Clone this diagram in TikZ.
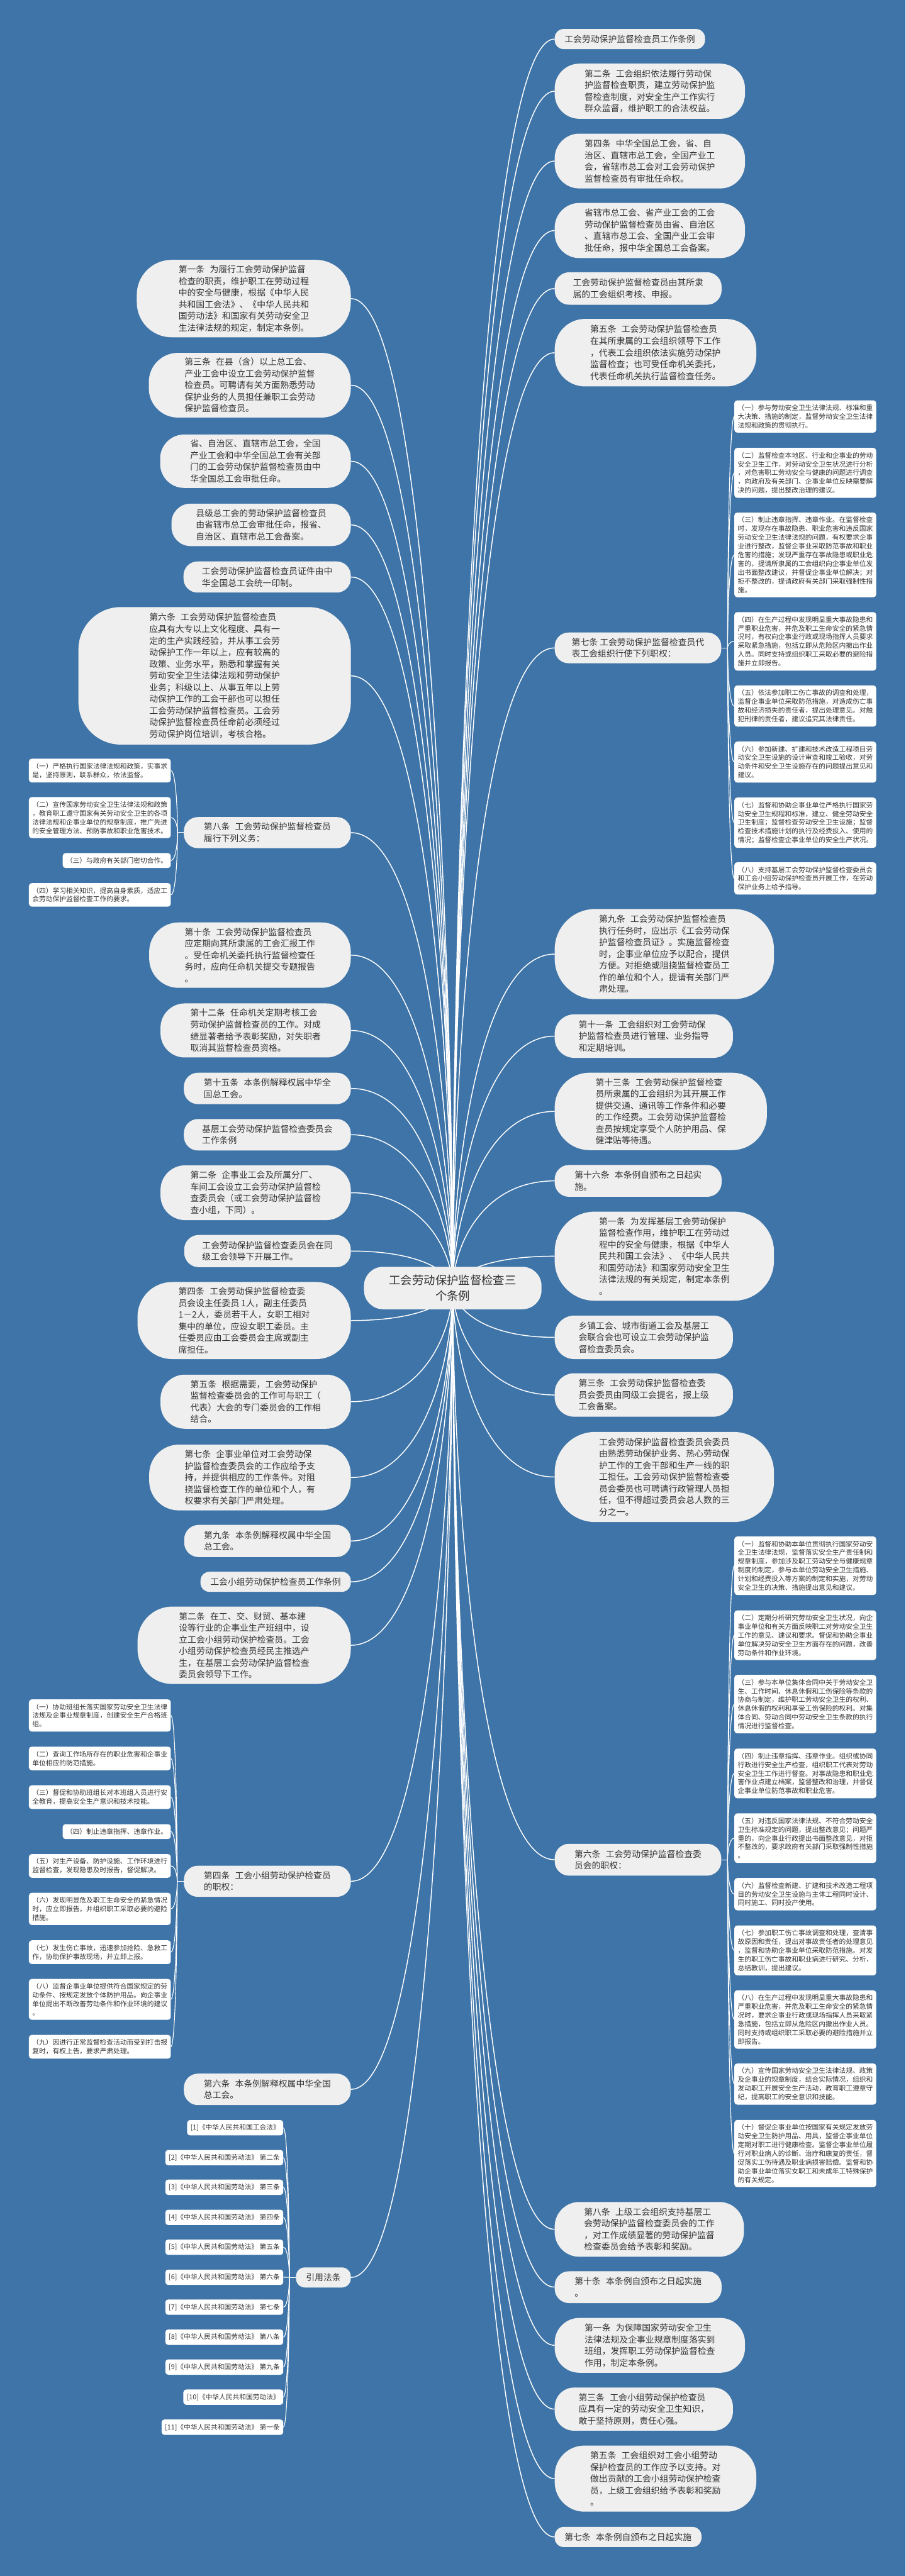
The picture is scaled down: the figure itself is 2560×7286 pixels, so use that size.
\documentclass[tikz,border=0pt]{standalone}
\usepackage{fontspec}
\setmainfont{Noto Sans CJK SC}
\usetikzlibrary{calc}
\definecolor{bgblue}{HTML}{3E74A7}
\definecolor{boxgray}{HTML}{EFEFEF}
\definecolor{txt}{HTML}{333333}
\newcommand\zgap{\hspace{0.6em}}
\newcommand\lnk[3][mline]{\draw[#1] (#2) .. controls ($(#2)!0.33!(#2 |- #3)$) and ($(#3)!0.75!(#2 |- #3)$) .. (#3);}
\pgfdeclarelayer{bg}\pgfdeclarelayer{lines}\pgfsetlayers{bg,lines,main}
\tikzset{
 mb/.style 2 args={fill=boxgray, text=txt, align=left, inner sep=0pt, minimum width=#1, minimum height=#2, rounded corners={min(0.45*#2,120)}, font=\fontsize{24.6pt}{33pt}\selectfont},
 cbox/.style={fill=boxgray, text=txt, align=center, inner sep=0pt, minimum width=502, minimum height=120, rounded corners=54, font=\fontsize{32.7pt}{43pt}\selectfont},
 cb/.style={fill=white, text=txt, align=left, inner xsep=9.5pt, inner ysep=12pt, rounded corners=8pt, font=\fontsize{19.1pt}{24.7pt}\selectfont},
 mline/.style={draw=white, line width=2.6pt},
 cline/.style={draw=white, line width=2pt},
}
\begin{document}
\begin{tikzpicture}[x=1pt,y=-1pt]
\useasboundingbox (0,0) rectangle (2560,7286);
\begin{pgfonlayer}{bg}\fill[bgblue] (0,0) rectangle (2560,7286);\end{pgfonlayer}

\node[cbox] (C0) at (1280,3643) {工会劳动保护监督检查三\\个条例};
\coordinate (CC) at (1280,3643);

% ---------------- right column
\node[mb={425}{57},anchor=west] (R1) at (1568,110.5) {工会劳动保护监督检查员工作条例};
\node[mb={538}{156},anchor=west] (R2) at (1568,258) {第二条\zgap 工会组织依法履行劳动保\\护监督检查职责，建立劳动保护监\\督检查制度，对安全生产工作实行\\群众监督，维护职工的合法权益。};
\node[mb={538}{155},anchor=west] (R3) at (1568,455.5) {第四条\zgap 中华全国总工会，省、自\\治区、直辖市总工会，全国产业工\\会，省辖市总工会对工会劳动保护\\监督检查员有审批任命权。};
\node[mb={538}{156},anchor=west] (R4) at (1568,652) {省辖市总工会、省产业工会的工会\\劳动保护监督检查员由省、自治区\\、直辖市总工会、全国产业工会审\\批任命，报中华全国总工会备案。};
\node[mb={472}{92},anchor=west] (R5) at (1568,816) {工会劳动保护监督检查员由其所隶\\属的工会组织考核、申报。};
\node[mb={570}{191},anchor=west] (R6) at (1568,997.5) {第五条\zgap 工会劳动保护监督检查员\\在其所隶属的工会组织领导下工作\\，代表工会组织依法实施劳动保护\\监督检查；也可受任命机关委托，\\代表任命机关执行监督检查任务。};
\node[mb={471}{87},anchor=west] (R7) at (1568,1832.5) {第七条 工会劳动保护监督检查员代\\表工会组织行使下列职权：};
\node[mb={620}{255},anchor=west] (R8) at (1568,2698.5) {第九条\zgap 工会劳动保护监督检查员\\执行任务时，应出示《工会劳动保\\护监督检查员证》。实施监督检查\\时，企事业单位应予以配合，提供\\方便。对拒绝或阻挠监督检查员工\\作的单位和个人，提请有关部门严\\肃处理。};
\node[mb={504}{123},anchor=west] (R9) at (1568,2930.5) {第十一条\zgap 工会组织对工会劳动保\\护监督检查员进行管理、业务指导\\和定期培训。};
\node[mb={600}{219},anchor=west] (R10) at (1568,3143.5) {第十三条\zgap 工会劳动保护监督检查\\员所隶属的工会组织为其开展工作\\提供交通、通讯等工作条件和必要\\的工作经费。工会劳动保护监督检\\查员按规定享受个人防护用品、保\\健津贴等待遇。};
\node[mb={472}{90},anchor=west] (R11) at (1568,3340) {第十六条\zgap 本条例自颁布之日起实\\施。};
\node[mb={620}{252},anchor=west] (R12) at (1568,3553) {第一条\zgap 为发挥基层工会劳动保护\\监督检查作用，维护职工在劳动过\\程中的安全与健康，根据《中华人\\民共和国工会法》、《中华人民共\\和国劳动法》和国家劳动安全卫生\\法律法规的有关规定，制定本条例\\。};
\node[mb={504}{123},anchor=west] (R13) at (1568,3782.5) {乡镇工会、城市街道工会及基层工\\会联合会也可设立工会劳动保护监\\督检查委员会。};
\node[mb={504}{123},anchor=west] (R14) at (1568,3945.5) {第三条\zgap 工会劳动保护监督检查委\\员会委员由同级工会提名，报上级\\工会备案。};
\node[mb={620}{255},anchor=west] (R15) at (1568,4177.5) {工会劳动保护监督检查委员会委员\\由熟悉劳动保护业务、热心劳动保\\护工作的工会干部和生产一线的职\\工担任。工会劳动保护监督检查委\\员会委员也可聘请行政管理人员担\\任，但不得超过委员会总人数的三\\分之一。};
\node[mb={471}{90},anchor=west] (R16) at (1568,5260) {第六条\zgap 工会劳动保护监督检查委\\员会的职权：};
\node[mb={535}{155},anchor=west] (R17) at (1568,6305.5) {第八条\zgap 上级工会组织支持基层工\\会劳动保护监督检查委员会的工作\\，对工作成绩显著的劳动保护监督\\检查委员会给予表彰和奖励。};
\node[mb={472}{90},anchor=west] (R18) at (1568,6469) {第十条\zgap 本条例自颁布之日起实施\\。};
\node[mb={538}{155},anchor=west] (R19) at (1568,6633.5) {第一条\zgap 为保障国家劳动安全卫生\\法律法规及企事业规章制度落实到\\班组，发挥职工劳动保护监督检查\\作用，制定本条例。};
\node[mb={504}{122},anchor=west] (R20) at (1568,6814) {第三条\zgap 工会小组劳动保护检查员\\应具有一定的劳动安全卫生知识，\\敢于坚持原则，责任心强。};
\node[mb={570}{187},anchor=west] (R21) at (1568,7010.5) {第五条\zgap 工会组织对工会小组劳动\\保护检查员的工作应予以支持。对\\做出贡献的工会小组劳动保护检查\\员，上级工会组织给予表彰和奖励\\。};
\node[mb={415}{57},anchor=west] (R22) at (1568,7175.5) {第七条\zgap 本条例自颁布之日起实施};

% children of R7
\node[cb,anchor=west] (A1) at (2076,1178) {（一）参与劳动安全卫生法律法规、标准和重\\大决策、措施的制定，监督劳动安全卫生法律\\法规和政策的贯彻执行。};
\node[cb,anchor=west] (A2) at (2076,1337.5) {（二）监督检查本地区、行业和企事业的劳动\\安全卫生工作，对劳动安全卫生状况进行分析\\，对危害职工劳动安全与健康的问题进行调查\\，向政府及有关部门、企事业单位反映需要解\\决的问题，提出整改治理的建议。};
\node[cb,anchor=west] (A3) at (2076,1569.5) {（三）制止违章指挥、违章作业。在监督检查\\时，发现存在事故隐患、职业危害和违反国家\\劳动安全卫生法律法规的问题，有权要求企事\\业进行整改，监督企事业采取防范事故和职业\\危害的措施；发现严重存在事故隐患或职业危\\害的，提请所隶属的工会组织向企事业单位发\\出书面整改建议，并督促企事业单位解决；对\\拒不整改的，提请政府有关部门采取强制性措\\施。};
\node[cb,anchor=west] (A4) at (2076,1814) {（四）在生产过程中发现明显重大事故隐患和\\严重职业危害，并危及职工生命安全的紧急情\\况时，有权向企事业行政或现场指挥人员要求\\采取紧急措施，包括立即从危险区内撤出作业\\人员。同时支持或组织职工采取必要的避险措\\施并立即报告。};
\node[cb,anchor=west] (A5) at (2076,1997) {（五）依法参加职工伤亡事故的调查和处理，\\监督企事业单位采取防范措施，对造成伤亡事\\故和经济损失的责任者，提出处理意见。对触\\犯刑律的责任者，建议追究其法律责任。};
\node[cb,anchor=west] (A6) at (2076,2155.5) {（六）参加新建、扩建和技术改造工程项目劳\\动安全卫生设施的设计审查和竣工验收，对劳\\动条件和安全卫生设施存在的问题提出意见和\\建议。};
\node[cb,anchor=west] (A7) at (2076,2327) {（七）监督和协助企事业单位严格执行国家劳\\动安全卫生规程和标准，建立、健全劳动安全\\卫生制度；监督检查劳动安全卫生设施；监督\\检查技术措施计划的执行及经费投入、使用的\\情况；监督检查企事业单位的安全生产状况。};
\node[cb,anchor=west] (A8) at (2076,2484.5) {（八）支持基层工会劳动保护监督检查委员会\\和工会小组劳动保护检查员开展工作，在劳动\\保护业务上给予指导。};

% children of R16
\node[cb,anchor=west] (B1) at (2076,4428.5) {（一）监督和协助本单位贯彻执行国家劳动安\\全卫生法律法规，监督落实安全生产责任制和\\规章制度，参加涉及职工劳动安全与健康规章\\制度的制定，参与本单位劳动安全卫生措施、\\计划和经费投入等方案的制定和实施，对劳动\\安全卫生的决策、措施提出意见和建议。};
\node[cb,anchor=west] (B2) at (2076,4625) {（二）定期分析研究劳动安全卫生状况，向企\\事业单位和有关方面反映职工对劳动安全卫生\\工作的意见、建议和要求。督促和协助企事业\\单位解决劳动安全卫生方面存在的问题，改善\\劳动条件和作业环境。};
\node[cb,anchor=west] (B3) at (2076,4820) {（三）参与本单位集体合同中关于劳动安全卫\\生、工作时间、休息休假和工伤保险等条款的\\协商与制定，维护职工劳动安全卫生的权利、\\休息休假的权利和享受工伤保险的权利。对集\\体合同、劳动合同中劳动安全卫生条款的执行\\情况进行监督检查。};
\node[cb,anchor=west] (B4) at (2076,5016) {（四）制止违章指挥、违章作业。组织或协同\\行政进行安全生产检查，组织职工代表对劳动\\安全卫生工作进行督查。对事故隐患和职业危\\害作业点建立档案，监督整改和治理，并督促\\企事业单位防范事故和职业危害。};
\node[cb,anchor=west] (B5) at (2076,5199) {（五）对违反国家法律法规、不符合劳动安全\\卫生标准规定的问题，提出整改意见；问题严\\重的，向企事业行政提出书面整改意见，对拒\\不整改的，要求政府有关部门采取强制性措施\\。};
\node[cb,anchor=west] (B6) at (2076,5357.5) {（六）监督检查新建、扩建和技术改造工程项\\目的劳动安全卫生设施与主体工程同时设计、\\同时施工、同时投产使用。};
\node[cb,anchor=west] (B7) at (2076,5516.5) {（七）参加职工伤亡事故调查和处理，查清事\\故原因和责任，提出对事故责任者的处理意见\\，监督和协助企事业单位采取防范措施。对发\\生的职工伤亡事故和职业病进行研究、分析，\\总结教训，提出建议。};
\node[cb,anchor=west] (B8) at (2076,5712) {（八）在生产过程中发现明显重大事故隐患和\\严重职业危害，并危及职工生命安全的紧急情\\况时，要求企事业行政或现场指挥人员采取紧\\急措施，包括立即从危险区内撤出作业人员。\\同时支持或组织职工采取必要的避险措施并立\\即报告。};
\node[cb,anchor=west] (B9) at (2076,5894.5) {（九）宣传国家劳动安全卫生法律法规、政策\\及企事业的规章制度，结合实际情况，组织和\\发动职工开展安全生产活动，教育职工遵章守\\纪，提高职工的安全意识和技能。};
\node[cb,anchor=west] (B10) at (2076,6091) {（十）督促企事业单位按国家有关规定发放劳\\动安全卫生防护用品、用具，监督企事业单位\\定期对职工进行健康检查。监督企事业单位履\\行对职业病人的诊断、治疗和康复的责任，督\\促落实工伤待遇及职业病损害赔偿。监督和协\\助企事业单位落实女职工和未成年工特殊保护\\的有关规定。};

% ---------------- left column
\node[mb={605}{219},anchor=east] (L1) at (992,844.5) {第一条\zgap 为履行工会劳动保护监督\\检查的职责，维护职工在劳动过程\\中的安全与健康，根据《中华人民\\共和国工会法》、《中华人民共和\\国劳动法》和国家有关劳动安全卫\\生法律法规的规定，制定本条例。};
\node[mb={571}{183},anchor=east] (L2) at (992,1089.5) {第三条\zgap 在县（含）以上总工会、\\产业工会中设立工会劳动保护监督\\检查员。可聘请有关方面熟悉劳动\\保护业务的人员担任兼职工会劳动\\保护监督检查员。};
\node[mb={539}{151},anchor=east] (L3) at (992,1304.5) {省、自治区、直辖市总工会，全国\\产业工会和中华全国总工会有关部\\门的工会劳动保护监督检查员由中\\华全国总工会审批任命。};
\node[mb={507}{120},anchor=east] (L4) at (992,1484.5) {县级总工会的劳动保护监督检查员\\由省辖市总工会审批任命，报省、\\自治区、直辖市总工会备案。};
\node[mb={473}{88},anchor=east] (L5) at (992,1632) {工会劳动保护监督检查员证件由中\\华全国总工会统一印制。};
\node[mb={770}{389},anchor=east] (L6) at (992,1911.5) {第六条\zgap 工会劳动保护监督检查员\\应具有大专以上文化程度、具有一\\定的生产实践经验，并从事工会劳\\动保护工作一年以上，应有较高的\\政策、业务水平，熟悉和掌握有关\\劳动安全卫生法律法规和劳动保护\\业务；科级以上、从事五年以上劳\\动保护工作的工会干部也可以担任\\工会劳动保护监督检查员。工会劳\\动保护监督检查员任命前必须经过\\劳动保护岗位培训，考核合格。};
\node[mb={472}{88},anchor=east] (L7) at (992,2355) {第八条\zgap 工会劳动保护监督检查员\\履行下列义务：};
\node[mb={570}{185},anchor=east] (L8) at (992,2701.5) {第十条\zgap 工会劳动保护监督检查员\\应定期向其所隶属的工会汇报工作\\。受任命机关委托执行监督检查任\\务时，应向任命机关提交专题报告\\。};
\node[mb={538}{153},anchor=east] (L9) at (992,2914.5) {第十二条\zgap 任命机关定期考核工会\\劳动保护监督检查员的工作。对成\\绩显著者给予表彰奖励，对失职者\\取消其监督检查员资格。};
\node[mb={472}{89},anchor=east] (L10) at (992,3078.5) {第十五条\zgap 本条例解释权属中华全\\国总工会。};
\node[mb={472}{89},anchor=east] (L11) at (992,3209.5) {基层工会劳动保护监督检查委员会\\工作条例};
\node[mb={538}{155},anchor=east] (L12) at (992,3373.5) {第二条\zgap 企事业工会及所属分厂、\\车间工会设立工会劳动保护监督检\\查委员会（或工会劳动保护监督检\\查小组，下同）。};
\node[mb={471}{91},anchor=east] (L13) at (992,3538.5) {工会劳动保护监督检查委员会在同\\级工会领导下开展工作。};
\node[mb={603}{218},anchor=east] (L14) at (992,3735) {第四条\zgap 工会劳动保护监督检查委\\员会设主任委员 1人，副主任委员\\1－2人，委员若干人，女职工相对\\集中的单位，应设女职工委员。主\\任委员应由工会委员会主席或副主\\席担任。};
\node[mb={538}{153},anchor=east] (L15) at (992,3964.5) {第五条\zgap 根据需要，工会劳动保护\\监督检查委员会的工作可与职工（\\代表）大会的专门委员会的工作相\\结合。};
\node[mb={570}{186},anchor=east] (L16) at (992,4179) {第七条\zgap 企事业单位对工会劳动保\\护监督检查委员会的工作应给予支\\持，并提供相应的工作条件。对阻\\挠监督检查工作的单位和个人，有\\权要求有关部门严肃处理。};
\node[mb={471}{91},anchor=east] (L17) at (992,4358.5) {第九条\zgap 本条例解释权属中华全国\\总工会。};
\node[mb={425}{57},anchor=east] (L18) at (992,4474) {工会小组劳动保护检查员工作条例};
\node[mb={603}{219},anchor=east] (L19) at (992,4653.5) {第二条\zgap 在工、交、财贸、基本建\\设等行业的企事业生产班组中，设\\立工会小组劳动保护检查员。工会\\小组劳动保护检查员经民主推选产\\生，在基层工会劳动保护监督检查\\委员会领导下工作。};
\node[mb={472}{88},anchor=east] (L20) at (992,5321) {第四条\zgap 工会小组劳动保护检查员\\的职权：};
\node[mb={472}{89},anchor=east] (L21) at (992,5909.5) {第六条\zgap 本条例解释权属中华全国\\总工会。};
\node[mb={155}{57},anchor=east] (L22) at (992,6441.5) {引用法条};

% children of L7
\node[cb,anchor=east] (D1) at (483,2179.5) {（一）严格执行国家法律法规和政策，实事求\\是，坚持原则，联系群众，依法监督。};
\node[cb,anchor=east] (D2) at (483,2312.5) {（二）宣传国家劳动安全卫生法律法规和政策\\，教育职工遵守国家有关劳动安全卫生的各项\\法律法规和企事业单位的规章制度，推广先进\\的安全管理方法、预防事故和职业危害技术。};
\node[cb,anchor=east] (D3) at (483,2434) {（三）与政府有关部门密切合作。};
\node[cb,anchor=east] (D4) at (483,2531) {（四）学习相关知识，提高自身素质，适应工\\会劳动保护监督检查工作的要求。};

% children of L20
\node[cb,anchor=east] (E1) at (483,4852) {（一）协助班组长落实国家劳动安全卫生法律\\法规及企事业规章制度，创建安全生产合格班\\组。};
\node[cb,anchor=east] (E2) at (483,4973.5) {（二）查询工作场所存在的职业危害和企事业\\单位相应的防范措施。};
\node[cb,anchor=east] (E3) at (483,5083) {（三）督促和协助班组长对本班组人员进行安\\全教育，提高安全生产意识和技术技能。};
\node[cb,anchor=east] (E4) at (483,5180.5) {（四）制止违章指挥、违章作业。};
\node[cb,anchor=east] (E5) at (483,5277.5) {（五）对生产设备、防护设施、工作环境进行\\监督检查，发现隐患及时报告，督促解决。};
\node[cb,anchor=east] (E6) at (483,5399) {（六）发现明显危及职工生命安全的紧急情况\\时，应立即报告，并组织职工采取必要的避险\\措施。};
\node[cb,anchor=east] (E7) at (483,5521.5) {（七）发生伤亡事故，迅速参加抢险、急救工\\作，协助保护事故现场，并立即上报。};
\node[cb,anchor=east] (E8) at (483,5655) {（八）监督企事业单位提供符合国家规定的劳\\动条件、按规定发放个体防护用品。向企事业\\单位提出不断改善劳动条件和作业环境的建议\\。};
\node[cb,anchor=east] (E9) at (483,5789) {（九）因进行正常监督检查活动而受到打击报\\复时，有权上告，要求严肃处理。};

% children of L22
\node[cb,anchor=east] (F1) at (801,6018) {[1]《中华人民共和国工会法》};
\node[cb,anchor=east] (F2) at (801,6102.5) {[2]《中华人民共和国劳动法》 第二条};
\node[cb,anchor=east] (F3) at (801,6186.5) {[3]《中华人民共和国劳动法》 第三条};
\node[cb,anchor=east] (F4) at (801,6271.5) {[4]《中华人民共和国劳动法》 第四条};
\node[cb,anchor=east] (F5) at (801,6356) {[5]《中华人民共和国劳动法》 第五条};
\node[cb,anchor=east] (F6) at (801,6441) {[6]《中华人民共和国劳动法》 第六条};
\node[cb,anchor=east] (F7) at (801,6525.5) {[7]《中华人民共和国劳动法》 第七条};
\node[cb,anchor=east] (F8) at (801,6610.5) {[8]《中华人民共和国劳动法》 第八条};
\node[cb,anchor=east] (F9) at (801,6695) {[9]《中华人民共和国劳动法》 第九条};
\node[cb,anchor=east] (F10) at (801,6780) {[10]《中华人民共和国劳动法》};
\node[cb,anchor=east] (F11) at (801,6865) {[11]《中华人民共和国劳动法》 第一条};

\coordinate (S7) at (2057,1832.5);
\coordinate (S16) at (2057,5260);
\coordinate (S8) at (502,2355);
\coordinate (S20) at (501,5321);
\coordinate (S22) at (818,6441.5);

\begin{pgfonlayer}{lines}
\foreach \n in {R1,R2,R3,R4,R5,R6,R7,R8,R9,R10,R11,R12,R13,R14,R15,R16,R17,R18,R19,R20,R21,R22} {\lnk{CC}{\n.west}}
\foreach \n in {L1,L2,L3,L4,L5,L6,L7,L8,L9,L10,L11,L12,L13,L14,L15,L16,L17,L18,L19,L20,L21,L22} {\lnk{CC}{\n.east}}
\draw[cline] (R7.east) -- (S7);
\foreach \n in {A1,A2,A3,A4,A5,A6,A7,A8} {\lnk[cline]{S7}{\n.west}}
\draw[cline] (R16.east) -- (S16);
\foreach \n in {B1,B2,B3,B4,B5,B6,B7,B8,B9,B10} {\lnk[cline]{S16}{\n.west}}
\draw[cline] (L7.west) -- (S8);
\foreach \n in {D1,D2,D3,D4} {\lnk[cline]{S8}{\n.east}}
\draw[cline] (L20.west) -- (S20);
\foreach \n in {E1,E2,E3,E4,E5,E6,E7,E8,E9} {\lnk[cline]{S20}{\n.east}}
\draw[cline] (L22.west) -- (S22);
\foreach \n in {F1,F2,F3,F4,F5,F6,F7,F8,F9,F10,F11} {\lnk[cline]{S22}{\n.east}}
\end{pgfonlayer}
\end{tikzpicture}
\end{document}
